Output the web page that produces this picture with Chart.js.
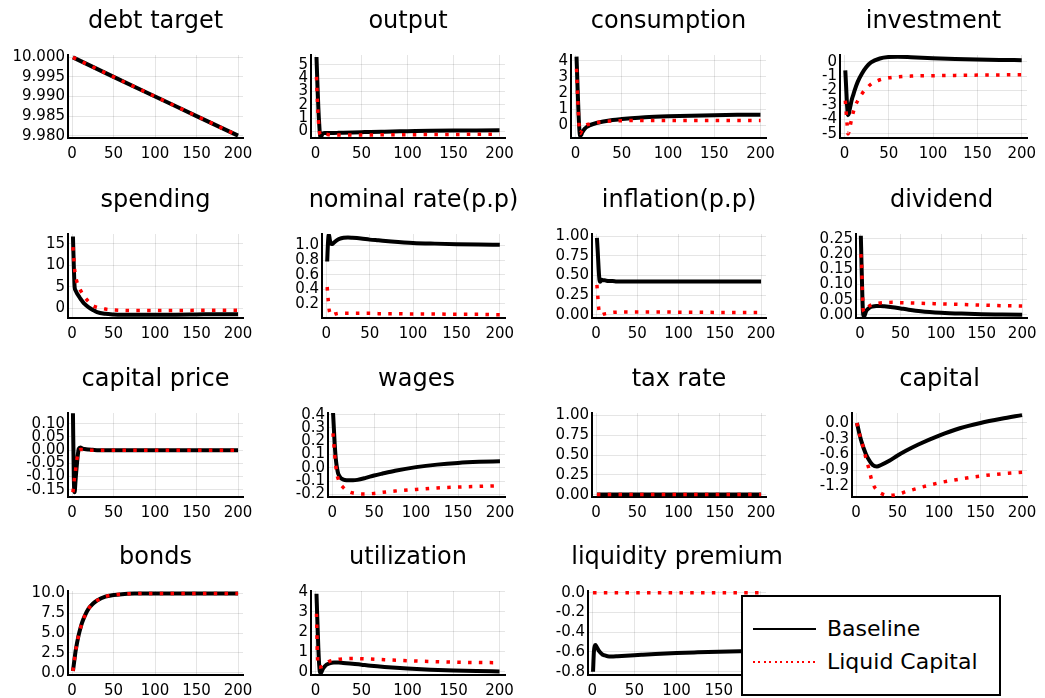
<!DOCTYPE html>
<html>
<head>
<meta charset="utf-8">
<title>Impulse responses</title>
<script src="https://cdn.jsdelivr.net/npm/chart.js@4.4.1/dist/chart.umd.min.js"></script>
<style>
    body { margin: 0; background: #fff; width: 1045px; height: 698px; overflow: hidden; position: relative; font-family: "DejaVu Sans", sans-serif; }
    canvas { position: absolute; }
    #legend { position: absolute; left: 741px; top: 595px; width: 260px; height: 101px; box-sizing: border-box; border: 2px solid #000; background: #fff; z-index: 5; }
    #legend .sample { position: absolute; left: 10px; width: 63px; height: 2px; }
    #legend .label { position: absolute; left: 84px; font-size: 22px; line-height: 26px; color: #000; white-space: nowrap; }
    .solid { background: #000; }
    .dotted { background: repeating-linear-gradient(to right, #ff0000 0 2px, transparent 2px 5.5px); }
</style>
</head>
<body>

<div id="legend">
    <div class="sample solid" style="top:31px"></div><div class="label" style="top:19px">Baseline</div>
    <div class="sample dotted" style="top:64px"></div><div class="label" style="top:52px">Liquid Capital</div>
</div>

<script>
// ==========================================
// 1. DATA
// ==========================================
const periods = [1, 2, 3, 4, 5, 6, 7, 8, 10, 12, 15, 20, 25, 30, 40, 50, 60, 75, 100, 125, 150, 175, 200];
const linePeriods = [1, 50, 100, 150, 200];
const flatPeriods = [1, 200];
const xTicks = [0, 50, 100, 150, 200];

// debt target
const debtBase = [10.000, 9.995, 9.990, 9.985, 9.980];
const debtLiq = [10.000, 9.995, 9.990, 9.985, 9.980];
const debtTicks = ['9.980', '9.985', '9.990', '9.995', '10.000'];

// output
const outputBase = [5.6, 3.6, 1.8, 0.5, -0.35, -0.4, -0.25, -0.15, -0.12, -0.12, -0.12, -0.12, -0.11, -0.1, -0.08, -0.06, -0.04, -0.02, 0.01, 0.04, 0.06, 0.07, 0.08];
const outputLiq = [4.1, 2.3, 0.9, 0.1, -0.25, -0.2, -0.15, -0.15, -0.2, -0.22, -0.25, -0.27, -0.28, -0.28, -0.28, -0.28, -0.27, -0.26, -0.25, -0.24, -0.23, -0.22, -0.21];
const outputTicks = ['0', '1', '2', '3', '4', '5'];

// consumption
const consBase = [4.25, 2.6, 1.0, -0.2, -0.65, -0.6, -0.45, -0.35, -0.2, -0.1, 0.0, 0.1, 0.18, 0.24, 0.33, 0.39, 0.44, 0.5, 0.56, 0.6, 0.63, 0.65, 0.66];
const consLiq = [3.5, 2.1, 0.8, -0.2, -0.5, -0.4, -0.3, -0.2, -0.05, 0.03, 0.08, 0.15, 0.2, 0.23, 0.27, 0.29, 0.3, 0.3, 0.3, 0.3, 0.3, 0.3, 0.3];
const consTicks = ['0', '1', '2', '3', '4'];

// investment
const investBase = [-0.6, -1.8, -3.0, -3.7, -3.6, -3.3, -3.0, -2.7, -2.3, -1.9, -1.4, -0.8, -0.35, -0.05, 0.22, 0.32, 0.34, 0.31, 0.24, 0.19, 0.15, 0.12, 0.1];
const investLiq = [-2.7, -3.5, -4.3, -5.0, -4.9, -4.6, -4.3, -4.0, -3.5, -3.1, -2.7, -2.2, -1.85, -1.55, -1.25, -1.12, -1.05, -1.0, -0.97, -0.95, -0.93, -0.92, -0.9];
const investTicks = ['-5', '-4', '-3', '-2', '-1', '0'];

// spending
const spendBase = [16.7, 10, 5, 4.2, 3.8, 3.4, 3.1, 2.8, 2.2, 1.7, 1.0, 0.2, -0.4, -0.9, -1.3, -1.45, -1.5, -1.5, -1.5, -1.5, -1.45, -1.4, -1.4];
const spendLiq = [14.2, 11.6, 9.1, 7.5, 6.7, 6.0, 5.5, 5.0, 4.2, 3.5, 2.6, 1.5, 0.6, 0.2, -0.2, -0.4, -0.5, -0.55, -0.55, -0.55, -0.5, -0.5, -0.5];
const spendTicks = ['0', '5', '10', '15'];

// nominal rate (p.p)
const nomBase = [0.78, 1.05, 1.15, 1.08, 1.03, 1.02, 1.02, 1.03, 1.05, 1.07, 1.09, 1.105, 1.108, 1.105, 1.095, 1.08, 1.07, 1.055, 1.035, 1.025, 1.018, 1.013, 1.01];
const nomLiq = [0.43, 0.28, 0.14, 0.08, 0.05, 0.04, 0.04, 0.05, 0.06, 0.065, 0.07, 0.07, 0.07, 0.07, 0.07, 0.07, 0.065, 0.065, 0.06, 0.06, 0.055, 0.055, 0.05];
const nomTicks = ['0.2', '0.4', '0.6', '0.8', '1.0'];

// inflation (p.p)
const inflBase = [0.98, 0.8, 0.6, 0.45, 0.42, 0.44, 0.445, 0.44, 0.44, 0.435, 0.43, 0.43, 0.425, 0.425, 0.425, 0.425, 0.425, 0.425, 0.425, 0.425, 0.425, 0.425, 0.425];
const inflLiq = [0.38, 0.24, 0.1, 0.03, 0.005, 0.0, 0.0, 0.005, 0.01, 0.015, 0.02, 0.03, 0.033, 0.035, 0.035, 0.035, 0.035, 0.035, 0.033, 0.032, 0.03, 0.03, 0.03];
const inflTicks = ['0.00', '0.25', '0.50', '0.75', '1.00'];

// dividend
const divBase = [0.26, 0.15, 0.05, 0.0, -0.005, 0.0, 0.008, 0.014, 0.02, 0.024, 0.027, 0.029, 0.029, 0.028, 0.025, 0.021, 0.017, 0.012, 0.007, 0.004, 0.002, 0.001, 0.0];
const divLiq = [0.2, 0.16, 0.07, 0.015, 0.01, 0.012, 0.016, 0.02, 0.025, 0.03, 0.034, 0.037, 0.039, 0.04, 0.041, 0.04, 0.039, 0.038, 0.036, 0.034, 0.032, 0.03, 0.029];
const divTicks = ['0.00', '0.05', '0.10', '0.15', '0.20', '0.25'];

// capital price
const cpBase = [0.14, -0.1, -0.16, -0.12, -0.08, -0.045, -0.015, 0.005, 0.01, 0.007, 0.004, 0.002, 0.001, 0, 0, 0, 0, 0, 0, 0, 0, 0, 0];
const cpLiq = [-0.16, -0.13, -0.1, -0.08, -0.05, -0.03, -0.01, 0.0, 0.002, 0.002, 0.001, 0, 0, 0, 0, 0, 0, 0, 0, 0, 0, 0, 0];
const cpTicks = ['-0.15', '-0.10', '-0.05', '0.00', '0.05', '0.10'];

// wages
const wageBase = [0.42, 0.3, 0.18, 0.09, 0.03, -0.01, -0.04, -0.055, -0.075, -0.085, -0.092, -0.094, -0.094, -0.091, -0.076, -0.058, -0.043, -0.022, 0.005, 0.024, 0.037, 0.045, 0.05];
const wageLiq = [0.26, 0.185, 0.1, 0.03, -0.02, -0.06, -0.08, -0.1, -0.125, -0.14, -0.16, -0.18, -0.19, -0.195, -0.197, -0.193, -0.185, -0.175, -0.163, -0.152, -0.145, -0.14, -0.135];
const wageTicks = ['-0.2', '-0.1', '0.0', '0.1', '0.2', '0.3', '0.4'];

// tax rate
const taxBase = [0, 0];
const taxLiq = [0, 0];
const taxTicks = ['0.00', '0.25', '0.50', '0.75', '1.00'];

// capital
const capBase = [0.0, -0.07, -0.14, -0.21, -0.27, -0.33, -0.38, -0.43, -0.52, -0.6, -0.69, -0.8, -0.83, -0.8, -0.72, -0.62, -0.53, -0.41, -0.24, -0.1, 0.0, 0.08, 0.15];
const capLiq = [0.0, -0.08, -0.15, -0.21, -0.27, -0.33, -0.38, -0.43, -0.55, -0.68, -0.85, -1.15, -1.28, -1.34, -1.38, -1.36, -1.31, -1.24, -1.14, -1.07, -1.01, -0.97, -0.94];
const capTicks = ['-1.2', '-0.9', '-0.6', '-0.3', '0.0'];

// bonds
const bondBase = [0.2, 1.0, 1.8, 2.6, 3.2, 3.8, 4.3, 4.8, 5.6, 6.3, 7.1, 8.1, 8.7, 9.1, 9.6, 9.8, 9.9, 9.97, 10, 10, 10, 10, 10];
const bondLiq = [0.2, 1.0, 1.8, 2.6, 3.2, 3.8, 4.3, 4.8, 5.6, 6.3, 7.1, 8.1, 8.7, 9.1, 9.6, 9.8, 9.9, 9.97, 10, 10, 10, 10, 10];
const bondTicks = ['0.0', '2.5', '5.0', '7.5', '10.0'];

// utilization
const utilBase = [3.9, 2.5, 1.2, 0.3, -0.05, -0.05, 0.05, 0.15, 0.27, 0.35, 0.42, 0.46, 0.46, 0.44, 0.4, 0.35, 0.3, 0.24, 0.16, 0.1, 0.06, 0.03, 0.01];
const utilLiq = [2.9, 0.9, 0.25, 0.22, 0.23, 0.24, 0.25, 0.27, 0.36, 0.44, 0.52, 0.58, 0.62, 0.64, 0.66, 0.65, 0.63, 0.6, 0.55, 0.51, 0.48, 0.46, 0.45];
const utilTicks = ['0', '1', '2', '3', '4'];

// liquidity premium
const lpBase = [-0.8, -0.6, -0.54, -0.53, -0.545, -0.56, -0.575, -0.59, -0.61, -0.625, -0.635, -0.645, -0.645, -0.643, -0.638, -0.632, -0.627, -0.62, -0.61, -0.603, -0.597, -0.593, -0.59];
const lpLiq = [0, 0];
const lpTicks = ['-0.8', '-0.6', '-0.4', '-0.2', '0.0'];

// ==========================================
// 2. LAYOUT (plot-area boxes of the 4x4 grid)
// ==========================================
const FONT = '"DejaVu Sans", sans-serif';
const SIDE_W = 75;      // y tick label room; mirrored on the right so titles centre on the plot
const TITLE_H = 57;     // title block above each plot area
const XAXIS_H = 32;     // room for x tick labels
const X_MIN = -4.97, X_MAX = 205.97;

const rowTop = [55, 233.5, 413.3, 591];
const rowBottom = [138.4, 317.5, 496.7, 675];
const colRight = [243, 504.5, 766, 1027];

const panels = [
    { title: 'debt target', row: 0, col: 0, left: 68, t: linePeriods, t2: linePeriods, base: debtBase, liq: debtLiq, ticks: debtTicks, yMin: 9.9794, yMax: 10.0006 },
    { title: 'output', row: 0, col: 1, left: 311, t: periods, t2: periods, base: outputBase, liq: outputLiq, ticks: outputTicks, yMin: -0.5, yMax: 5.75 },
    { title: 'consumption', row: 0, col: 2, left: 571, t: periods, t2: periods, base: consBase, liq: consLiq, ticks: consTicks, yMin: -0.78, yMax: 4.35 },
    { title: 'investment', row: 0, col: 3, left: 840, t: periods, t2: periods, base: investBase, liq: investLiq, ticks: investTicks, yMin: -5.28, yMax: 0.46 },

    { title: 'spending', row: 1, col: 0, left: 68, t: periods, t2: periods, base: spendBase, liq: spendLiq, ticks: spendTicks, yMin: -2.28, yMax: 17.28 },
    { title: 'nominal rate(p.p)', row: 1, col: 1, left: 322, t: periods, t2: periods, base: nomBase, liq: nomLiq, ticks: nomTicks, yMin: 0.005, yMax: 1.157 },
    { title: 'inflation(p.p)', row: 1, col: 2, left: 592, t: periods, t2: periods, base: inflBase, liq: inflLiq, ticks: inflTicks, yMin: -0.041, yMax: 1.028 },
    { title: 'dividend', row: 1, col: 3, left: 856, t: periods, t2: periods, base: divBase, liq: divLiq, ticks: divTicks, yMin: -0.0105, yMax: 0.266 },

    { title: 'capital price', row: 2, col: 0, left: 68, t: periods, t2: periods, base: cpBase, liq: cpLiq, ticks: cpTicks, yMin: -0.178, yMax: 0.141 },
    { title: 'wages', row: 2, col: 1, left: 328, t: periods, t2: periods, base: wageBase, liq: wageLiq, ticks: wageTicks, yMin: -0.22, yMax: 0.413 },
    { title: 'tax rate', row: 2, col: 2, left: 592, t: flatPeriods, t2: flatPeriods, base: taxBase, liq: taxLiq, ticks: taxTicks, yMin: -0.03, yMax: 1.03 },
    { title: 'capital', row: 2, col: 3, left: 852, t: periods, t2: periods, base: capBase, liq: capLiq, ticks: capTicks, yMin: -1.41, yMax: 0.19 },

    { title: 'bonds', row: 3, col: 0, left: 68, t: periods, t2: periods, base: bondBase, liq: bondLiq, ticks: bondTicks, yMin: -0.3, yMax: 10.3 },
    { title: 'utilization', row: 3, col: 1, left: 311, t: periods, t2: periods, base: utilBase, liq: utilLiq, ticks: utilTicks, yMin: -0.165, yMax: 4.035 },
    { title: 'liquidity premium', row: 3, col: 2, left: 588, t: periods, t2: flatPeriods, base: lpBase, liq: lpLiq, ticks: lpTicks, yMin: -0.833, yMax: 0.017 }
];

// ==========================================
// 3. CHART RENDERING
// ==========================================
function toPoints(xs, ys) {
    return xs.map((x, i) => ({ x: x, y: ys[i] }));
}

function makePanel(p) {
    const top = Math.round(rowTop[p.row]);
    const bottom = Math.round(rowBottom[p.row]);
    const right = Math.round(colRight[p.col]);
    const left = Math.round(p.left);

    const canvas = document.createElement('canvas');
    canvas.width = (right - left) + 2 * SIDE_W;
    canvas.height = (bottom - top) + TITLE_H + XAXIS_H;
    canvas.style.left = (left - SIDE_W) + 'px';
    canvas.style.top = (top - TITLE_H) + 'px';
    document.body.appendChild(canvas);

    const tickFont = { family: FONT, size: 15 };

    return new Chart(canvas, {
        type: 'line',
        data: {
            datasets: [
                {
                    label: 'Liquid Capital',
                    data: toPoints(p.t2, p.liq),
                    borderColor: '#ff0000',
                    borderWidth: 3.5,
                    borderDash: [3.5, 7.3],
                    borderCapStyle: 'butt',
                    pointRadius: 0,
                    cubicInterpolationMode: 'monotone',
                    order: 0
                },
                {
                    label: 'Baseline',
                    data: toPoints(p.t, p.base),
                    borderColor: '#000000',
                    borderWidth: 4,
                    borderJoinStyle: 'round',
                    pointRadius: 0,
                    cubicInterpolationMode: 'monotone',
                    order: 1
                }
            ]
        },
        options: {
            responsive: false,
            animation: false,
            devicePixelRatio: 1,
            events: [],
            layout: { padding: 0 },
            plugins: {
                legend: { display: false },
                tooltip: { enabled: false },
                title: {
                    display: true,
                    text: p.title,
                    color: '#000',
                    font: { family: FONT, size: 24, weight: 'normal', lineHeight: 1 },
                    padding: { top: 12, bottom: TITLE_H - 36 }
                }
            },
            scales: {
                x: {
                    type: 'linear',
                    min: X_MIN,
                    max: X_MAX,
                    afterBuildTicks: s => { s.ticks = xTicks.map(v => ({ value: v })); },
                    afterFit: s => { s.height = XAXIS_H; },
                    grid: { color: 'rgba(0,0,0,0.1)', lineWidth: 1, drawTicks: false },
                    border: { color: '#000', width: 2 },
                    ticks: { font: tickFont, color: '#000', padding: 7, maxRotation: 0, autoSkip: false, callback: v => String(v) }
                },
                y: {
                    type: 'linear',
                    min: p.yMin,
                    max: p.yMax,
                    afterBuildTicks: s => { s.ticks = p.ticks.map(l => ({ value: parseFloat(l) })); },
                    afterFit: s => { s.width = SIDE_W; },
                    grid: { color: 'rgba(0,0,0,0.1)', lineWidth: 1, drawTicks: false },
                    border: { color: '#000', width: 2 },
                    ticks: { font: tickFont, color: '#000', padding: 3, autoSkip: false, callback: (v, i) => p.ticks[i] }
                },
                // invisible mirror axis: keeps the plot centred under its title
                pad: {
                    type: 'linear',
                    position: 'right',
                    min: 0,
                    max: 1,
                    afterFit: s => { s.width = SIDE_W; },
                    grid: { display: false, drawTicks: false },
                    border: { display: false },
                    ticks: { display: false }
                }
            }
        }
    });
}

const charts = panels.map(makePanel);
</script>
</body>
</html>
